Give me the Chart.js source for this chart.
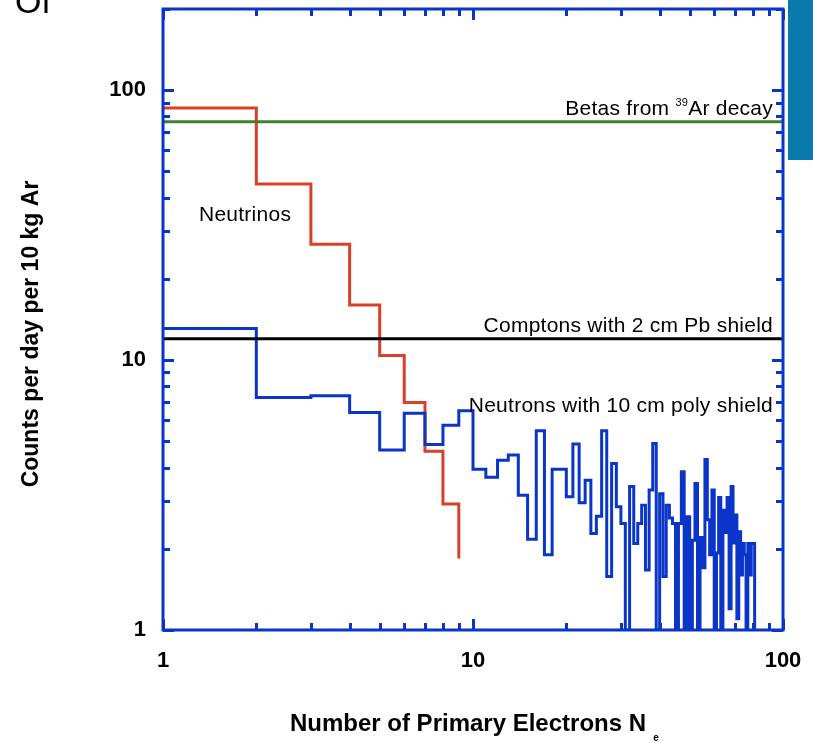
<!DOCTYPE html>
<html><head><meta charset="utf-8">
<script src="https://cdn.jsdelivr.net/npm/chart.js@4.4.1/dist/chart.umd.min.js"></script>
<style>
html,body{margin:0;padding:0;background:#fff;overflow:hidden}
#wrap{position:relative;width:813px;height:743px}
#c{position:absolute;left:0;top:0}
#of{position:absolute;left:15px;top:-16px;font:34px "Liberation Sans",Arial,sans-serif;color:#000;line-height:1}
#banner{position:absolute;left:788px;top:0;width:25px;height:160px;background:#0a79ab}
</style></head><body>
<div id="wrap"><canvas id="c" width="813" height="743"></canvas><div id="of">Of</div><div id="banner"></div></div>
<script>
// ---- data ----
const neutrinoBins = [1, 2, 3, 4, 5, 6, 7, 8, 9];
const neutrinoCounts = [86, 44.9, 26.9, 16.0, 10.4, 6.97, 4.6, 2.93, 1.84];
// neutron counts for bins starting at 1,2,3,...,80
const neutronCounts = [
  13.1, 7.27, 7.38, 6.40, 4.64, 6.35, 4.87, 5.74, 6.49, 3.94,
  3.68, 4.26, 4.45, 3.16, 2.17, 5.47, 1.90, 3.94, 3.94, 3.12,
  4.89, 2.96, 3.59, 2.28, 2.64, 5.47, 1.58, 4.14, 2.86, 2.48,
  1.0, 3.4, 2.09, 2.48, 2.9, 1.67, 3.3, 4.91, 1.0, 3.2,
  1.58, 2.9, 2.6, 2.48, 1.0, 2.48, 3.86, 1.0, 2.63, 1.0,
  2.15, 3.49, 1.0, 2.2, 1.7, 4.28, 2.56, 1.9, 3.3, 1.0,
  1.93, 3.1, 1.0, 2.78, 2.3, 3.1, 1.2, 3.4, 2.1, 2.67,
  1.1, 2.31, 1.6, 2.09, 1.9, 1.0, 2.09, 1.6, 2.09, 2.09
];
const neutronEndBin = 81;
const neutronEndCount = 1.0;
const comptonLevel = 12;
const betaLevel = 76.5;
const xRange = [1, 100];
const yRange = [1, 200];
const xTickLabels = [1, 10, 100];
const yTickLabels = [1, 10, 100];

// ---- styles ----
const BLUE = '#0a35c8';
const RED = '#d8402a';
const GREEN = '#3f7f2e';
const FONT = '"Liberation Sans", Arial, Helvetica, sans-serif';

const neutronPoints = neutronCounts.map((v, i) => ({x: i + 1, y: v}));
neutronPoints.push({x: neutronEndBin, y: neutronEndCount});
const neutrinoPoints = neutrinoBins.map((b, i) => ({x: b, y: neutrinoCounts[i]}));

function minorValues(lo, hi) {
  const out = [];
  for (let d = 1; d <= hi; d *= 10) {
    for (let m = 1; m <= 9; m++) {
      const v = m * d;
      if (v >= lo && v <= hi) out.push({v, major: m === 1});
    }
  }
  return out;
}

const framePlugin = {
  id: 'frame',
  afterDraw(chart) {
    const {ctx, chartArea: a, scales: {x, y}} = chart;
    ctx.save();
    // frame
    ctx.strokeStyle = BLUE;
    ctx.lineWidth = 3;
    ctx.strokeRect(a.left, a.top, a.right - a.left, a.bottom - a.top);
    // ticks
    ctx.lineWidth = 3;
    ctx.beginPath();
    for (const t of minorValues(xRange[0], xRange[1])) {
      const px = Math.round(x.getPixelForValue(t.v)) + 0.5;
      const len = t.major ? 11 : 7;
      ctx.moveTo(px, a.bottom); ctx.lineTo(px, a.bottom - len);
      ctx.moveTo(px, a.top); ctx.lineTo(px, a.top + len);
    }
    for (const t of minorValues(yRange[0], yRange[1])) {
      const py = Math.round(y.getPixelForValue(t.v)) + 0.5;
      const len = t.major ? 11 : 7;
      ctx.moveTo(a.left, py); ctx.lineTo(a.left + len, py);
      ctx.moveTo(a.right, py); ctx.lineTo(a.right - len, py);
    }
    ctx.stroke();

    // tick labels
    ctx.fillStyle = '#000';
    ctx.font = 'bold 22px ' + FONT;
    ctx.textAlign = 'center';
    ctx.textBaseline = 'middle';
    for (const v of xTickLabels) {
      ctx.fillText(String(v), x.getPixelForValue(v), a.bottom + 31);
    }
    ctx.textAlign = 'right';
    for (const v of yTickLabels) {
      ctx.fillText(String(v), a.left - 17, y.getPixelForValue(v));
    }

    // axis titles
    ctx.font = 'bold 24px ' + FONT;
    ctx.textAlign = 'center';
    ctx.fillText('Number of Primary Electrons N', 468, 724);
    ctx.font = 'bold 10px ' + FONT;
    ctx.fillText('e', 656, 738);
    ctx.save();
    ctx.translate(32, 334);
    ctx.rotate(-Math.PI / 2);
    ctx.font = 'bold 23px ' + FONT;
    ctx.fillText('Counts per day per 10 kg Ar', 0, 0);
    ctx.restore();

    // annotations
    ctx.font = '21px ' + FONT;
    ctx.letterSpacing = '0.25px';
    ctx.textBaseline = 'alphabetic';
    ctx.textAlign = 'left';
    ctx.fillText('Neutrinos', a.left + 36, 221);
    ctx.textAlign = 'right';
    const rx = a.right - 10;
    ctx.fillText('Comptons with 2 cm Pb shield', rx, y.getPixelForValue(comptonLevel) - 7);
    ctx.fillText('Neutrons with 10 cm poly shield', rx, 412);
    // Betas with superscript
    const part2 = 'Ar decay';
    const w2 = ctx.measureText(part2).width;
    const by = y.getPixelForValue(betaLevel) - 7;
    ctx.fillText(part2, rx, by);
    ctx.font = '11px ' + FONT;
    const sup = '39';
    const ws = ctx.measureText(sup).width;
    ctx.fillText(sup, rx - w2, by - 9);
    ctx.font = '21px ' + FONT;
    ctx.fillText('Betas from ', rx - w2 - ws, by);
    ctx.restore();
  }
};

new Chart(document.getElementById('c'), {
  type: 'line',
  data: {
    datasets: [
      {label: 'Betas from 39Ar decay', data: [{x: xRange[0], y: betaLevel}, {x: xRange[1], y: betaLevel}],
       borderColor: GREEN, borderWidth: 3, pointRadius: 0},
      {label: 'Comptons with 2 cm Pb shield', data: [{x: xRange[0], y: comptonLevel}, {x: xRange[1], y: comptonLevel}],
       borderColor: '#000', borderWidth: 3, pointRadius: 0},
      {label: 'Neutrons with 10 cm poly shield', data: neutronPoints, stepped: 'before',
       borderColor: BLUE, borderWidth: 3, pointRadius: 0, borderJoinStyle: 'miter', borderCapStyle: 'butt'},
      {label: 'Neutrinos', data: neutrinoPoints, stepped: 'before',
       borderColor: RED, borderWidth: 3, pointRadius: 0, borderJoinStyle: 'miter'}
    ]
  },
  options: {
    responsive: false,
    animation: false,
    events: [],
    layout: {padding: {top: 9, right: 30, left: 0, bottom: 0}},
    plugins: {legend: {display: false}, tooltip: {enabled: false}},
    scales: {
      x: {type: 'logarithmic', min: xRange[0], max: xRange[1],
          grid: {display: false}, border: {display: false}, ticks: {display: false},
          afterFit(s) { s.height = 113; }},
      y: {type: 'logarithmic', min: yRange[0], max: yRange[1],
          grid: {display: false}, border: {display: false}, ticks: {display: false},
          afterFit(s) { s.width = 163; }}
    }
  },
  plugins: [framePlugin]
});
</script>
</body></html>
